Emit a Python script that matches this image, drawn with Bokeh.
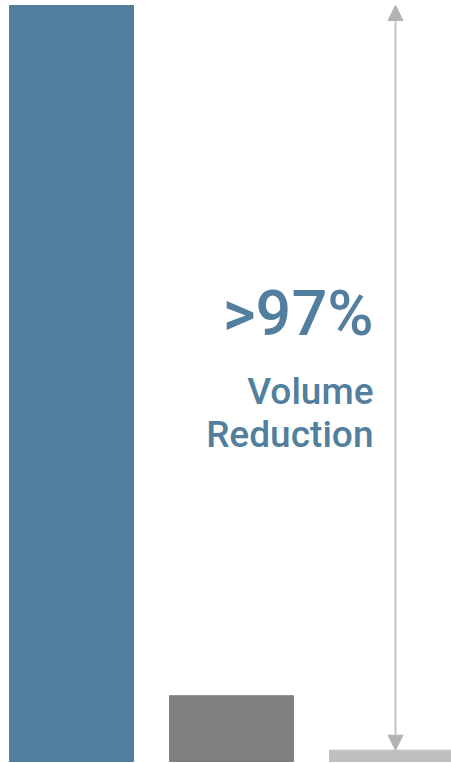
from bokeh.plotting import figure
from bokeh.models import Range1d, Arrow, NormalHead, ColumnDataSource
from bokeh.core.properties import value
from bokeh.embed import file_html
from bokeh.resources import INLINE

# data
categories = ["Before", "After", "Residual"]
volumes = [100.0, 8.7, 1.5]
bar_colors = ["#527f9e", "#7f7f7f", "#bfbfbf"]
headline = ">97%"
caption_lines = ["Volume", "Reduction"]

xs = list(range(len(categories)))

p = figure(width=451, height=763, output_backend="svg", toolbar_location=None,
           x_range=Range1d(-0.44375, 2.375), y_range=Range1d(-0.265, 100.66),
           min_border=0, outline_line_color=None)
p.axis.visible = False
p.grid.visible = False
p.background_fill_color = "white"
p.border_fill_color = "white"

src = ColumnDataSource(dict(x=xs, top=volumes, color=bar_colors, cat=categories))
p.vbar(x="x", top="top", bottom=0, width=0.775, color="color", source=src)

# double-headed arrow from residual to original volume
arrow_x = 2.025
head = dict(size=15, fill_color="#b3b3b3", line_color="#b3b3b3", line_width=1)
p.add_layout(Arrow(start=NormalHead(**head), end=NormalHead(**head),
                   x_start=arrow_x, y_start=volumes[2], x_end=arrow_x, y_end=volumes[0],
                   line_color="#c3c3c3", line_width=2))

text_x = 1.8875
p.text(x=[text_x], y=[59.3], text=[headline], text_align="right", text_baseline="alphabetic",
       text_font=value("Roboto Medium"), text_font_size="63px",
       text_color="#527f9e")
p.text(x=[text_x, text_x], y=[48.9, 43.2], text=caption_lines, text_align="right",
       text_baseline="alphabetic", text_font=value("Roboto Medium"),
       text_font_size="37px", text_color="#527f9e")

open("out.html", "w").write(file_html(p, INLINE))
